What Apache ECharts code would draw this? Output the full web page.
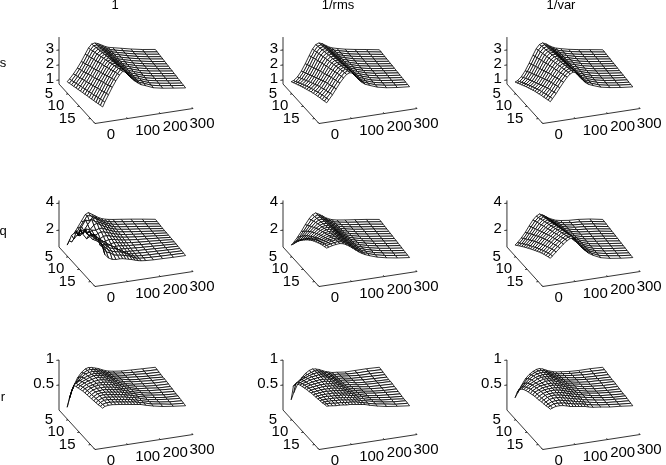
<!DOCTYPE html><html><head><meta charset="utf-8"><style>html,body{margin:0;background:#fff}#c{width:666px;height:465px}</style>
<script src="https://cdn.jsdelivr.net/npm/echarts@6/dist/echarts.min.js"></script></head><body><div id="c"></div><script>
const columnTitles=['1','1/rms','1/var'];
const rowTitles=['s','q','r'];
const columnX=[25,32,44,56,68,80,90,100,110,120,130,140,150,165,190,220,255,295];
const rowY=[1,2,3,4,5,6,7,8,9,10,11,12,13,14,15,16,17];
const xTicks=[0,100,200,300];
const yTicks=[5,10,15];
const zTicksByRow=[[1,2,3],[2,4],[0.5,1]];
const s1=[
[.80,.95,1.25,1.60,2.00,2.45,2.82,3.06,3.10,3.02,2.90,2.78,2.68,2.60,2.48,2.33,2.18,2.05],
[.86,1.02,1.33,1.69,2.09,2.53,2.89,3.11,3.13,3.04,2.92,2.79,2.69,2.60,2.48,2.33,2.18,2.05],
[.92,1.09,1.41,1.77,2.17,2.61,2.96,3.16,3.16,3.06,2.93,2.80,2.70,2.61,2.48,2.33,2.19,2.06],
[.98,1.16,1.49,1.85,2.25,2.69,3.03,3.21,3.19,3.08,2.94,2.81,2.71,2.62,2.48,2.33,2.19,2.06],
[1.04,1.23,1.56,1.94,2.34,2.76,3.09,3.25,3.22,3.10,2.96,2.82,2.72,2.62,2.48,2.34,2.20,2.07],
[1.10,1.30,1.64,2.02,2.42,2.84,3.16,3.30,3.25,3.12,2.97,2.83,2.72,2.63,2.48,2.34,2.20,2.07],
[1.16,1.37,1.72,2.10,2.50,2.92,3.23,3.35,3.28,3.13,2.98,2.84,2.73,2.64,2.48,2.34,2.20,2.07],
[1.22,1.44,1.80,2.19,2.58,3.00,3.30,3.40,3.31,3.15,3.00,2.85,2.74,2.64,2.48,2.34,2.21,2.08],
[1.28,1.50,1.87,2.27,2.67,3.07,3.36,3.44,3.34,3.17,3.01,2.87,2.75,2.65,2.48,2.34,2.21,2.08],
[1.34,1.57,1.95,2.36,2.75,3.15,3.43,3.49,3.37,3.19,3.02,2.88,2.76,2.66,2.48,2.34,2.22,2.09],
[1.39,1.64,2.03,2.44,2.84,3.23,3.50,3.54,3.40,3.21,3.04,2.89,2.77,2.66,2.48,2.34,2.22,2.09],
[1.45,1.71,2.11,2.53,2.93,3.31,3.57,3.58,3.43,3.23,3.05,2.90,2.77,2.67,2.48,2.34,2.22,2.10],
[1.51,1.78,2.19,2.62,3.01,3.39,3.63,3.63,3.46,3.25,3.06,2.91,2.78,2.68,2.48,2.34,2.23,2.10],
[1.57,1.85,2.27,2.70,3.10,3.47,3.70,3.68,3.49,3.27,3.08,2.92,2.79,2.68,2.48,2.35,2.23,2.11],
[1.63,1.92,2.34,2.78,3.18,3.55,3.77,3.73,3.52,3.29,3.09,2.93,2.80,2.69,2.48,2.35,2.23,2.11],
[1.69,1.98,2.42,2.87,3.27,3.62,3.84,3.78,3.55,3.31,3.11,2.95,2.81,2.70,2.48,2.35,2.24,2.12],
[1.75,2.05,2.50,2.95,3.35,3.70,3.90,3.82,3.58,3.32,3.12,2.96,2.82,2.70,2.48,2.35,2.24,2.12]];
const s2=[
[.80,.85,1.05,1.40,1.85,2.35,2.75,3.02,3.10,3.02,2.88,2.74,2.64,2.55,2.42,2.30,2.18,2.03],
[.90,.95,1.16,1.50,1.95,2.44,2.82,3.07,3.14,3.05,2.90,2.76,2.65,2.56,2.43,2.31,2.19,2.04],
[1.00,1.06,1.27,1.60,2.04,2.52,2.88,3.12,3.18,3.08,2.92,2.77,2.67,2.57,2.43,2.31,2.19,2.05],
[1.09,1.16,1.37,1.70,2.14,2.60,2.95,3.17,3.21,3.11,2.94,2.79,2.68,2.58,2.44,2.32,2.20,2.06],
[1.18,1.26,1.47,1.80,2.23,2.68,3.01,3.22,3.25,3.13,2.96,2.80,2.69,2.59,2.44,2.32,2.20,2.07],
[1.27,1.36,1.57,1.90,2.32,2.76,3.07,3.26,3.28,3.16,2.98,2.82,2.70,2.60,2.45,2.33,2.21,2.08],
[1.36,1.46,1.67,2.00,2.41,2.83,3.13,3.31,3.32,3.18,3.00,2.83,2.72,2.61,2.45,2.33,2.21,2.09],
[1.44,1.55,1.77,2.10,2.50,2.90,3.19,3.35,3.35,3.21,3.02,2.85,2.73,2.62,2.46,2.34,2.22,2.10],
[1.52,1.64,1.87,2.20,2.58,2.97,3.25,3.39,3.38,3.23,3.04,2.86,2.74,2.63,2.47,2.34,2.23,2.11],
[1.60,1.73,1.97,2.29,2.67,3.04,3.31,3.44,3.42,3.26,3.06,2.88,2.76,2.65,2.48,2.35,2.24,2.12],
[1.67,1.81,2.06,2.39,2.75,3.11,3.37,3.48,3.46,3.29,3.08,2.90,2.77,2.66,2.49,2.35,2.25,2.13],
[1.74,1.89,2.14,2.48,2.83,3.18,3.43,3.53,3.50,3.32,3.10,2.91,2.78,2.67,2.49,2.36,2.25,2.14],
[1.80,1.96,2.22,2.56,2.91,3.25,3.49,3.58,3.54,3.35,3.12,2.93,2.80,2.68,2.50,2.36,2.26,2.15],
[1.86,2.03,2.29,2.63,2.99,3.32,3.54,3.63,3.58,3.38,3.15,2.95,2.81,2.69,2.50,2.37,2.26,2.16],
[1.91,2.09,2.36,2.70,3.06,3.38,3.60,3.68,3.63,3.42,3.17,2.96,2.82,2.70,2.51,2.37,2.27,2.17],
[1.97,2.15,2.43,2.78,3.13,3.44,3.65,3.73,3.67,3.46,3.19,2.98,2.84,2.71,2.51,2.38,2.27,2.18],
[2.03,2.20,2.50,2.85,3.20,3.50,3.70,3.78,3.72,3.50,3.22,3.00,2.85,2.72,2.52,2.38,2.28,2.20]];
const s3=[
[.78,.84,1.06,1.42,1.88,2.38,2.78,3.03,3.10,3.01,2.86,2.73,2.63,2.54,2.41,2.29,2.17,2.03],
[.88,.95,1.17,1.53,1.98,2.46,2.84,3.08,3.14,3.04,2.88,2.75,2.64,2.55,2.42,2.30,2.18,2.04],
[.99,1.06,1.28,1.64,2.07,2.54,2.90,3.13,3.18,3.07,2.90,2.76,2.65,2.56,2.42,2.30,2.18,2.05],
[1.09,1.17,1.39,1.74,2.16,2.61,2.96,3.17,3.21,3.10,2.93,2.78,2.67,2.57,2.43,2.31,2.19,2.06],
[1.19,1.28,1.50,1.84,2.26,2.69,3.02,3.22,3.25,3.13,2.95,2.79,2.68,2.58,2.44,2.31,2.20,2.07],
[1.29,1.38,1.60,1.94,2.35,2.77,3.08,3.27,3.29,3.16,2.97,2.81,2.69,2.60,2.44,2.32,2.20,2.08],
[1.38,1.48,1.70,2.04,2.44,2.84,3.14,3.32,3.33,3.19,3.00,2.82,2.71,2.61,2.45,2.32,2.21,2.09],
[1.47,1.58,1.80,2.14,2.53,2.92,3.20,3.36,3.37,3.22,3.02,2.84,2.72,2.62,2.46,2.33,2.22,2.10],
[1.56,1.67,1.90,2.24,2.62,2.99,3.26,3.41,3.41,3.25,3.04,2.85,2.73,2.63,2.46,2.33,2.22,2.11],
[1.64,1.76,2.00,2.34,2.71,3.06,3.32,3.46,3.45,3.28,3.06,2.87,2.75,2.64,2.47,2.34,2.23,2.12],
[1.71,1.85,2.10,2.44,2.79,3.13,3.38,3.51,3.49,3.31,3.08,2.89,2.76,2.65,2.48,2.35,2.24,2.13],
[1.78,1.93,2.19,2.53,2.87,3.20,3.44,3.56,3.53,3.34,3.10,2.91,2.77,2.66,2.48,2.35,2.24,2.14],
[1.85,2.01,2.28,2.62,2.95,3.27,3.50,3.62,3.57,3.37,3.13,2.92,2.79,2.67,2.49,2.36,2.25,2.15],
[1.91,2.08,2.36,2.70,3.03,3.34,3.56,3.67,3.61,3.41,3.15,2.94,2.80,2.68,2.50,2.37,2.26,2.16],
[1.98,2.15,2.44,2.78,3.11,3.41,3.62,3.72,3.66,3.45,3.17,2.96,2.81,2.69,2.51,2.37,2.26,2.17],
[2.04,2.22,2.51,2.85,3.18,3.48,3.68,3.77,3.70,3.49,3.20,2.97,2.83,2.70,2.51,2.38,2.27,2.18],
[2.10,2.28,2.58,2.92,3.25,3.55,3.74,3.82,3.74,3.52,3.22,2.99,2.84,2.71,2.52,2.39,2.28,2.19]];
const q1=[
[.80,1.15,1.50,1.95,2.40,2.85,2.97,2.82,2.66,2.50,2.38,2.30,2.24,2.18,2.10,2.00,1.87,1.71],
[1.30,1.20,1.70,2.15,2.55,2.95,2.90,2.80,2.66,2.52,2.40,2.31,2.25,2.18,2.10,2.00,1.87,1.72],
[1.90,1.60,1.90,2.40,2.85,2.75,2.95,2.84,2.68,2.54,2.41,2.32,2.25,2.18,2.10,2.00,1.88,1.73],
[2.20,2.30,1.95,2.30,2.70,3.05,2.85,2.78,2.66,2.54,2.41,2.32,2.25,2.18,2.10,2.00,1.88,1.74],
[2.60,2.20,2.45,2.60,2.50,2.80,2.90,2.76,2.62,2.50,2.39,2.31,2.24,2.18,2.09,2.00,1.89,1.75],
[2.40,2.85,2.60,2.30,2.65,2.60,2.70,2.68,2.58,2.47,2.37,2.29,2.23,2.17,2.09,2.00,1.89,1.77],
[3.00,2.70,2.30,2.45,2.40,2.55,2.62,2.58,2.50,2.42,2.34,2.27,2.22,2.16,2.08,2.00,1.90,1.79],
[2.90,3.10,2.75,2.40,2.25,2.35,2.48,2.50,2.44,2.37,2.30,2.24,2.20,2.15,2.07,2.00,1.91,1.81],
[3.40,3.05,2.90,2.65,2.35,2.20,2.30,2.38,2.37,2.32,2.26,2.21,2.17,2.13,2.06,2.00,1.92,1.83],
[3.30,3.45,3.05,2.85,2.55,2.30,2.18,2.26,2.30,2.27,2.22,2.18,2.15,2.11,2.05,2.00,1.93,1.85],
[3.70,3.30,3.30,2.95,2.75,2.50,2.25,2.18,2.22,2.22,2.18,2.15,2.13,2.10,2.05,2.00,1.94,1.87],
[3.55,3.60,3.20,3.05,2.85,2.65,2.45,2.25,2.16,2.17,2.15,2.13,2.11,2.08,2.04,2.00,1.95,1.89],
[3.80,3.40,3.35,3.00,2.85,2.75,2.60,2.42,2.25,2.14,2.13,2.11,2.09,2.07,2.04,2.00,1.95,1.91],
[3.70,3.55,3.15,3.05,2.80,2.72,2.65,2.52,2.38,2.24,2.14,2.10,2.09,2.07,2.03,2.00,1.96,1.92],
[3.90,3.30,3.20,2.90,2.75,2.65,2.62,2.55,2.45,2.34,2.20,2.12,2.09,2.06,2.03,2.00,1.96,1.93],
[3.70,3.40,2.95,2.85,2.65,2.58,2.56,2.50,2.44,2.36,2.24,2.15,2.10,2.07,2.03,2.00,1.97,1.94],
[3.60,3.00,2.70,2.55,2.50,2.50,2.48,2.42,2.36,2.30,2.22,2.15,2.10,2.06,2.02,2.00,1.97,1.95]];
const q2=[
[.80,.95,1.30,1.70,2.15,2.55,2.80,2.90,2.78,2.62,2.45,2.32,2.22,2.14,2.05,1.96,1.85,1.70],
[1.05,1.20,1.52,1.88,2.28,2.64,2.85,2.93,2.80,2.65,2.47,2.34,2.24,2.16,2.06,1.96,1.85,1.71],
[1.35,1.46,1.75,2.07,2.42,2.73,2.90,2.96,2.83,2.67,2.50,2.37,2.26,2.17,2.07,1.97,1.86,1.71],
[1.62,1.70,1.95,2.25,2.55,2.82,2.95,2.99,2.86,2.69,2.52,2.39,2.28,2.19,2.08,1.97,1.86,1.72],
[1.86,1.92,2.14,2.41,2.67,2.90,3.00,3.02,2.88,2.72,2.54,2.41,2.30,2.21,2.09,1.98,1.87,1.72],
[2.08,2.13,2.31,2.55,2.79,2.97,3.05,3.04,2.91,2.74,2.57,2.43,2.32,2.22,2.10,1.99,1.87,1.73],
[2.28,2.33,2.47,2.69,2.90,3.04,3.10,3.07,2.93,2.76,2.59,2.45,2.34,2.24,2.11,1.99,1.88,1.74],
[2.47,2.51,2.62,2.81,3.00,3.11,3.15,3.10,2.96,2.78,2.61,2.47,2.36,2.26,2.12,2.00,1.88,1.74],
[2.64,2.68,2.76,2.93,3.09,3.18,3.19,3.13,2.98,2.81,2.63,2.50,2.38,2.27,2.13,2.01,1.88,1.75],
[2.80,2.84,2.89,3.04,3.18,3.24,3.23,3.15,3.01,2.83,2.66,2.52,2.40,2.29,2.15,2.01,1.89,1.76],
[2.94,2.98,3.02,3.14,3.26,3.30,3.27,3.18,3.03,2.85,2.68,2.54,2.42,2.31,2.16,2.02,1.89,1.76],
[3.06,3.11,3.14,3.24,3.34,3.36,3.31,3.21,3.05,2.88,2.70,2.56,2.44,2.32,2.17,2.03,1.90,1.77],
[3.17,3.22,3.26,3.34,3.42,3.42,3.35,3.24,3.08,2.90,2.73,2.59,2.46,2.34,2.18,2.03,1.90,1.77],
[3.27,3.32,3.37,3.44,3.50,3.48,3.39,3.27,3.10,2.93,2.75,2.61,2.49,2.36,2.19,2.04,1.91,1.78],
[3.36,3.41,3.47,3.53,3.57,3.53,3.43,3.29,3.13,2.95,2.77,2.63,2.51,2.38,2.20,2.05,1.91,1.79],
[3.43,3.49,3.55,3.60,3.63,3.58,3.47,3.32,3.15,2.97,2.80,2.66,2.53,2.40,2.21,2.05,1.92,1.79],
[3.50,3.55,3.62,3.66,3.68,3.62,3.50,3.35,3.18,3.00,2.82,2.68,2.56,2.42,2.22,2.06,1.92,1.80]];
const q3=[
[.80,.95,1.25,1.62,2.05,2.45,2.70,2.82,2.72,2.55,2.40,2.28,2.18,2.10,2.02,1.98,1.88,1.70],
[.95,1.10,1.40,1.76,2.17,2.55,2.78,2.89,2.79,2.61,2.45,2.32,2.21,2.12,2.03,1.98,1.88,1.71],
[1.10,1.25,1.55,1.90,2.28,2.65,2.86,2.96,2.86,2.67,2.49,2.36,2.24,2.14,2.04,1.99,1.88,1.71],
[1.25,1.40,1.69,2.04,2.39,2.73,2.94,3.04,2.93,2.73,2.54,2.39,2.27,2.17,2.05,1.99,1.88,1.72],
[1.39,1.54,1.83,2.17,2.50,2.82,3.02,3.11,3.00,2.79,2.59,2.43,2.30,2.19,2.06,1.99,1.88,1.72],
[1.53,1.68,1.97,2.30,2.61,2.90,3.10,3.19,3.06,2.85,2.63,2.47,2.33,2.21,2.07,1.99,1.89,1.73],
[1.66,1.81,2.10,2.42,2.72,2.99,3.18,3.26,3.13,2.91,2.68,2.50,2.36,2.23,2.08,2.00,1.89,1.74],
[1.79,1.94,2.23,2.54,2.82,3.08,3.26,3.33,3.20,2.97,2.73,2.54,2.39,2.25,2.09,2.00,1.89,1.74],
[1.92,2.07,2.35,2.66,2.92,3.16,3.34,3.41,3.27,3.03,2.78,2.58,2.42,2.27,2.10,2.00,1.89,1.75],
[2.05,2.20,2.47,2.77,3.02,3.25,3.42,3.48,3.34,3.08,2.82,2.62,2.45,2.30,2.11,2.00,1.89,1.75],
[2.17,2.32,2.58,2.87,3.12,3.33,3.50,3.56,3.40,3.14,2.87,2.65,2.48,2.32,2.12,2.00,1.89,1.76],
[2.29,2.44,2.69,2.97,3.21,3.42,3.58,3.63,3.47,3.20,2.92,2.69,2.51,2.34,2.13,2.01,1.89,1.76],
[2.40,2.55,2.80,3.07,3.31,3.50,3.66,3.70,3.54,3.26,2.96,2.73,2.54,2.36,2.14,2.01,1.89,1.77],
[2.50,2.65,2.90,3.16,3.40,3.59,3.74,3.78,3.61,3.32,3.01,2.77,2.57,2.38,2.15,2.01,1.90,1.78],
[2.59,2.74,2.99,3.24,3.48,3.68,3.82,3.85,3.68,3.38,3.06,2.80,2.60,2.41,2.16,2.01,1.90,1.78],
[2.67,2.82,3.07,3.32,3.57,3.76,3.89,3.93,3.75,3.44,3.10,2.84,2.63,2.43,2.17,2.02,1.90,1.79],
[2.75,2.90,3.15,3.40,3.65,3.85,3.97,4.00,3.82,3.50,3.15,2.88,2.66,2.45,2.18,2.02,1.90,1.80]];
const r1=[
[.03,.20,.42,.58,.68,.74,.76,.75,.73,.71,.68,.65,.63,.61,.59,.58,.57,.56],
[.25,.40,.55,.65,.72,.76,.77,.76,.74,.72,.69,.66,.64,.62,.60,.58,.57,.56],
[.45,.55,.63,.70,.75,.77,.78,.77,.75,.73,.70,.67,.65,.63,.60,.59,.57,.56],
[.62,.65,.69,.73,.76,.78,.79,.78,.76,.74,.71,.68,.66,.64,.61,.59,.57,.56],
[.64,.67,.72,.75,.78,.80,.80,.79,.77,.75,.72,.69,.67,.65,.61,.59,.58,.56],
[.66,.70,.74,.77,.79,.81,.81,.79,.78,.75,.73,.70,.68,.65,.62,.60,.58,.57],
[.68,.72,.76,.78,.80,.81,.81,.80,.78,.76,.74,.71,.69,.66,.62,.60,.58,.57],
[.70,.74,.77,.79,.81,.81,.81,.80,.79,.77,.74,.72,.70,.67,.63,.60,.58,.57],
[.71,.75,.79,.81,.82,.82,.81,.80,.79,.77,.75,.73,.71,.68,.63,.61,.58,.57],
[.72,.76,.80,.82,.82,.82,.81,.80,.79,.77,.75,.73,.72,.69,.64,.61,.59,.57],
[.73,.77,.81,.82,.83,.82,.81,.80,.79,.78,.76,.74,.72,.69,.65,.61,.59,.57],
[.74,.78,.82,.83,.83,.82,.81,.80,.79,.78,.76,.74,.73,.70,.65,.62,.59,.57],
[.75,.79,.83,.84,.83,.82,.81,.80,.79,.78,.76,.75,.73,.70,.66,.62,.59,.58],
[.76,.80,.83,.84,.83,.82,.81,.80,.79,.78,.76,.75,.74,.71,.66,.63,.60,.58],
[.77,.81,.84,.84,.83,.82,.81,.80,.79,.78,.77,.75,.74,.71,.67,.63,.60,.58],
[.79,.82,.84,.84,.83,.82,.81,.80,.79,.78,.77,.76,.74,.72,.67,.64,.60,.58],
[.80,.83,.84,.84,.83,.82,.81,.80,.79,.78,.77,.76,.75,.72,.68,.64,.61,.58]];
const r2=[
[.18,.30,.46,.58,.66,.71,.73,.72,.70,.67,.64,.62,.60,.59,.57,.57,.57,.56],
[.50,.54,.60,.65,.69,.72,.74,.73,.71,.68,.66,.63,.61,.60,.58,.57,.57,.56],
[.60,.62,.66,.69,.72,.74,.75,.74,.72,.69,.67,.64,.62,.61,.59,.57,.57,.56],
[.64,.66,.69,.72,.74,.75,.76,.75,.73,.70,.68,.65,.63,.62,.59,.58,.57,.56],
[.67,.69,.71,.74,.75,.76,.77,.76,.74,.71,.69,.66,.64,.63,.60,.58,.57,.56],
[.69,.71,.73,.75,.76,.77,.77,.76,.75,.72,.70,.67,.65,.64,.60,.58,.57,.56],
[.71,.73,.75,.76,.77,.78,.78,.77,.75,.73,.71,.68,.66,.64,.61,.59,.58,.57],
[.73,.75,.76,.77,.78,.78,.78,.77,.76,.74,.72,.69,.67,.65,.62,.59,.58,.57],
[.74,.76,.77,.78,.79,.79,.78,.78,.76,.75,.73,.70,.68,.66,.62,.60,.58,.57],
[.76,.77,.78,.79,.79,.79,.79,.78,.77,.75,.73,.71,.69,.67,.63,.60,.58,.57],
[.77,.78,.79,.80,.80,.79,.79,.78,.77,.76,.74,.72,.70,.68,.64,.61,.59,.57],
[.78,.79,.80,.80,.80,.80,.79,.78,.77,.76,.75,.73,.71,.69,.64,.61,.59,.57],
[.79,.80,.81,.81,.80,.80,.79,.79,.78,.77,.75,.74,.72,.70,.65,.62,.59,.57],
[.80,.81,.81,.81,.81,.80,.80,.79,.78,.77,.76,.74,.73,.70,.66,.62,.60,.57],
[.81,.82,.82,.82,.81,.81,.80,.79,.78,.77,.76,.75,.73,.71,.67,.63,.60,.58],
[.83,.83,.83,.82,.81,.81,.80,.79,.79,.78,.77,.75,.74,.71,.67,.64,.60,.58],
[.84,.84,.83,.82,.82,.81,.80,.80,.79,.78,.77,.76,.75,.72,.68,.64,.61,.58]];
const r3=[
[.22,.30,.44,.56,.64,.69,.72,.73,.71,.68,.65,.63,.61,.60,.58,.57,.57,.56],
[.38,.44,.53,.62,.68,.72,.74,.74,.72,.69,.66,.64,.62,.61,.59,.58,.57,.56],
[.48,.52,.59,.66,.71,.74,.75,.75,.73,.70,.67,.65,.63,.62,.60,.58,.57,.56],
[.54,.58,.64,.69,.73,.75,.76,.76,.74,.71,.68,.66,.64,.63,.60,.58,.57,.56],
[.58,.62,.67,.71,.75,.77,.77,.76,.75,.72,.69,.67,.65,.63,.61,.59,.57,.56],
[.61,.65,.70,.73,.76,.78,.78,.77,.75,.73,.70,.68,.66,.64,.61,.59,.58,.56],
[.63,.68,.72,.75,.77,.79,.79,.78,.76,.74,.71,.69,.67,.65,.62,.59,.58,.57],
[.65,.70,.74,.77,.78,.79,.79,.78,.76,.74,.72,.70,.68,.66,.62,.60,.58,.57],
[.67,.72,.75,.78,.79,.80,.80,.79,.77,.75,.73,.70,.69,.66,.63,.60,.58,.57],
[.69,.73,.77,.79,.80,.80,.80,.79,.77,.75,.73,.71,.69,.67,.63,.60,.58,.57],
[.70,.74,.78,.80,.81,.81,.80,.79,.77,.75,.73,.71,.70,.67,.64,.61,.59,.57],
[.71,.75,.79,.81,.81,.81,.80,.79,.77,.75,.73,.72,.70,.68,.64,.61,.59,.57],
[.73,.76,.80,.82,.82,.81,.80,.78,.77,.75,.73,.72,.70,.68,.65,.62,.59,.58],
[.74,.77,.81,.82,.82,.81,.79,.78,.76,.75,.73,.72,.70,.68,.65,.62,.60,.58],
[.75,.78,.81,.82,.82,.80,.79,.77,.76,.74,.73,.72,.70,.68,.65,.62,.60,.58],
[.77,.79,.82,.82,.81,.80,.78,.77,.75,.74,.73,.72,.70,.68,.65,.63,.60,.58],
[.78,.80,.82,.82,.81,.79,.77,.76,.75,.74,.73,.72,.70,.68,.66,.63,.61,.58]];
const tables=[[s1,s2,s3],[q1,q2,q3],[r1,r2,r3]];

const wallX=[59,283,507], wallBottom=[84,247,410];
const zScale=[{z0:.73,px:15,top:3.86},{z0:.75,px:13.5,top:4.2},{z0:0,px:50,top:1}];
const F='"Liberation Sans",Arial,sans-serif';
function proj(x,y,z,zs,keystone){const t=(y-1)/16;const k=1-keystone*t;
 return [10+x*98/300*k+36*t, 70-x*15/300+39.5*t-(z-zs.z0)*zs.px];}
const grids=[],xAxes=[],yAxes=[],series=[];
tables.forEach((rowT,r)=>rowT.forEach((tb,c)=>{
 const idx=grids.length, zs=zScale[r];
 grids.push({left:wallX[c]-10,top:wallBottom[r]-70,width:170,height:120,show:false});
 xAxes.push({type:'value',gridIndex:idx,min:0,max:170,show:false});
 yAxes.push({type:'value',gridIndex:idx,min:0,max:120,inverse:true,show:false});
 const segs=[[0,1,zs.z0,0,1,zs.top],[0,1,zs.z0,0,17,zs.z0],[0,17,zs.z0,300,17,zs.z0]];
 zTicksByRow[r].forEach(v=>segs.push([0,1,v,-8,1,v]));
 const texts=[];
 zTicksByRow[r].forEach(v=>texts.push([0,1,v,-5,-1,'right',String(v)]));
 yTicks.forEach(v=>{segs.push([0,v,zs.z0,-6,v,zs.z0]);texts.push([0,v,zs.z0,-15,0,'right',String(v)]);});
 const xo=[[16,11],[20,12],[15,13],[9,15]];
 xTicks.forEach((v,i)=>{segs.push([v,17,zs.z0,v,16.5,zs.z0]);texts.push([v,17,zs.z0,xo[i][0],xo[i][1],'center',String(v)]);});
 series.push({type:'custom',coordinateSystem:'cartesian2d',xAxisIndex:idx,yAxisIndex:idx,silent:true,animation:false,clip:false,progressive:0,
  data:[0],renderItem(p,api){const children=[];
   segs.forEach(s=>{const a=api.coord(proj(s[0],s[1],s[2],zs,0)),b=api.coord(proj(s[3],s[4],s[5],zs,0));
     children.push({type:'line',shape:{x1:a[0],y1:a[1],x2:b[0],y2:b[1]},style:{stroke:'#000',lineWidth:.8}});});
   texts.forEach(s=>{const a=api.coord(proj(s[0],s[1],s[2],zs,0));
     children.push({type:'text',x:a[0]+s[3],y:a[1]+s[4],style:{text:s[6],fill:'#000',font:'15px '+F,align:s[5],verticalAlign:'middle'}});});
   return {type:'group',children};}});
 const quads=[];
 for(let j=0;j<rowY.length-1;j++)for(let i=0;i<columnX.length-1;i++)
  quads.push([columnX[i],columnX[i+1],rowY[j],rowY[j+1],tb[j][i],tb[j][i+1],tb[j+1][i],tb[j+1][i+1]]);
 quads.sort((a,b)=>(a[2]*2.5-a[0]*.05)-(b[2]*2.5-b[0]*.05));
 series.push({type:'custom',coordinateSystem:'cartesian2d',xAxisIndex:idx,yAxisIndex:idx,silent:true,animation:false,clip:false,progressive:0,
  dimensions:['x0','x1','y0','y1','a','b','c','d'],encode:{x:0,y:2},data:quads,
  renderItem(p,api){const v=k=>api.value(k);
   const pts=[[v(0),v(2),v(4)],[v(1),v(2),v(5)],[v(1),v(3),v(7)],[v(0),v(3),v(6)]].map(q=>api.coord(proj(q[0],q[1],q[2],zs,.06)));
   return {type:'polygon',shape:{points:pts},style:{fill:'#fff',stroke:'#000',lineWidth:.8}};}});
}));
const graphic=[];
const titleX=[115,338,561], rowLabelY=[63,231,397];
columnTitles.forEach((t,i)=>graphic.push({type:'text',x:titleX[i],y:5,style:{text:t,font:'13px '+F,fill:'#000',align:'center',verticalAlign:'middle'}}));
rowTitles.forEach((t,i)=>graphic.push({type:'text',x:3,y:rowLabelY[i],style:{text:t,font:'13px '+F,fill:'#000',align:'center',verticalAlign:'middle'}}));
const chart=echarts.init(document.getElementById('c'),null,{renderer:'canvas'});
chart.setOption({animation:false,grid:grids,xAxis:xAxes,yAxis:yAxes,series,graphic});
</script></body></html>
